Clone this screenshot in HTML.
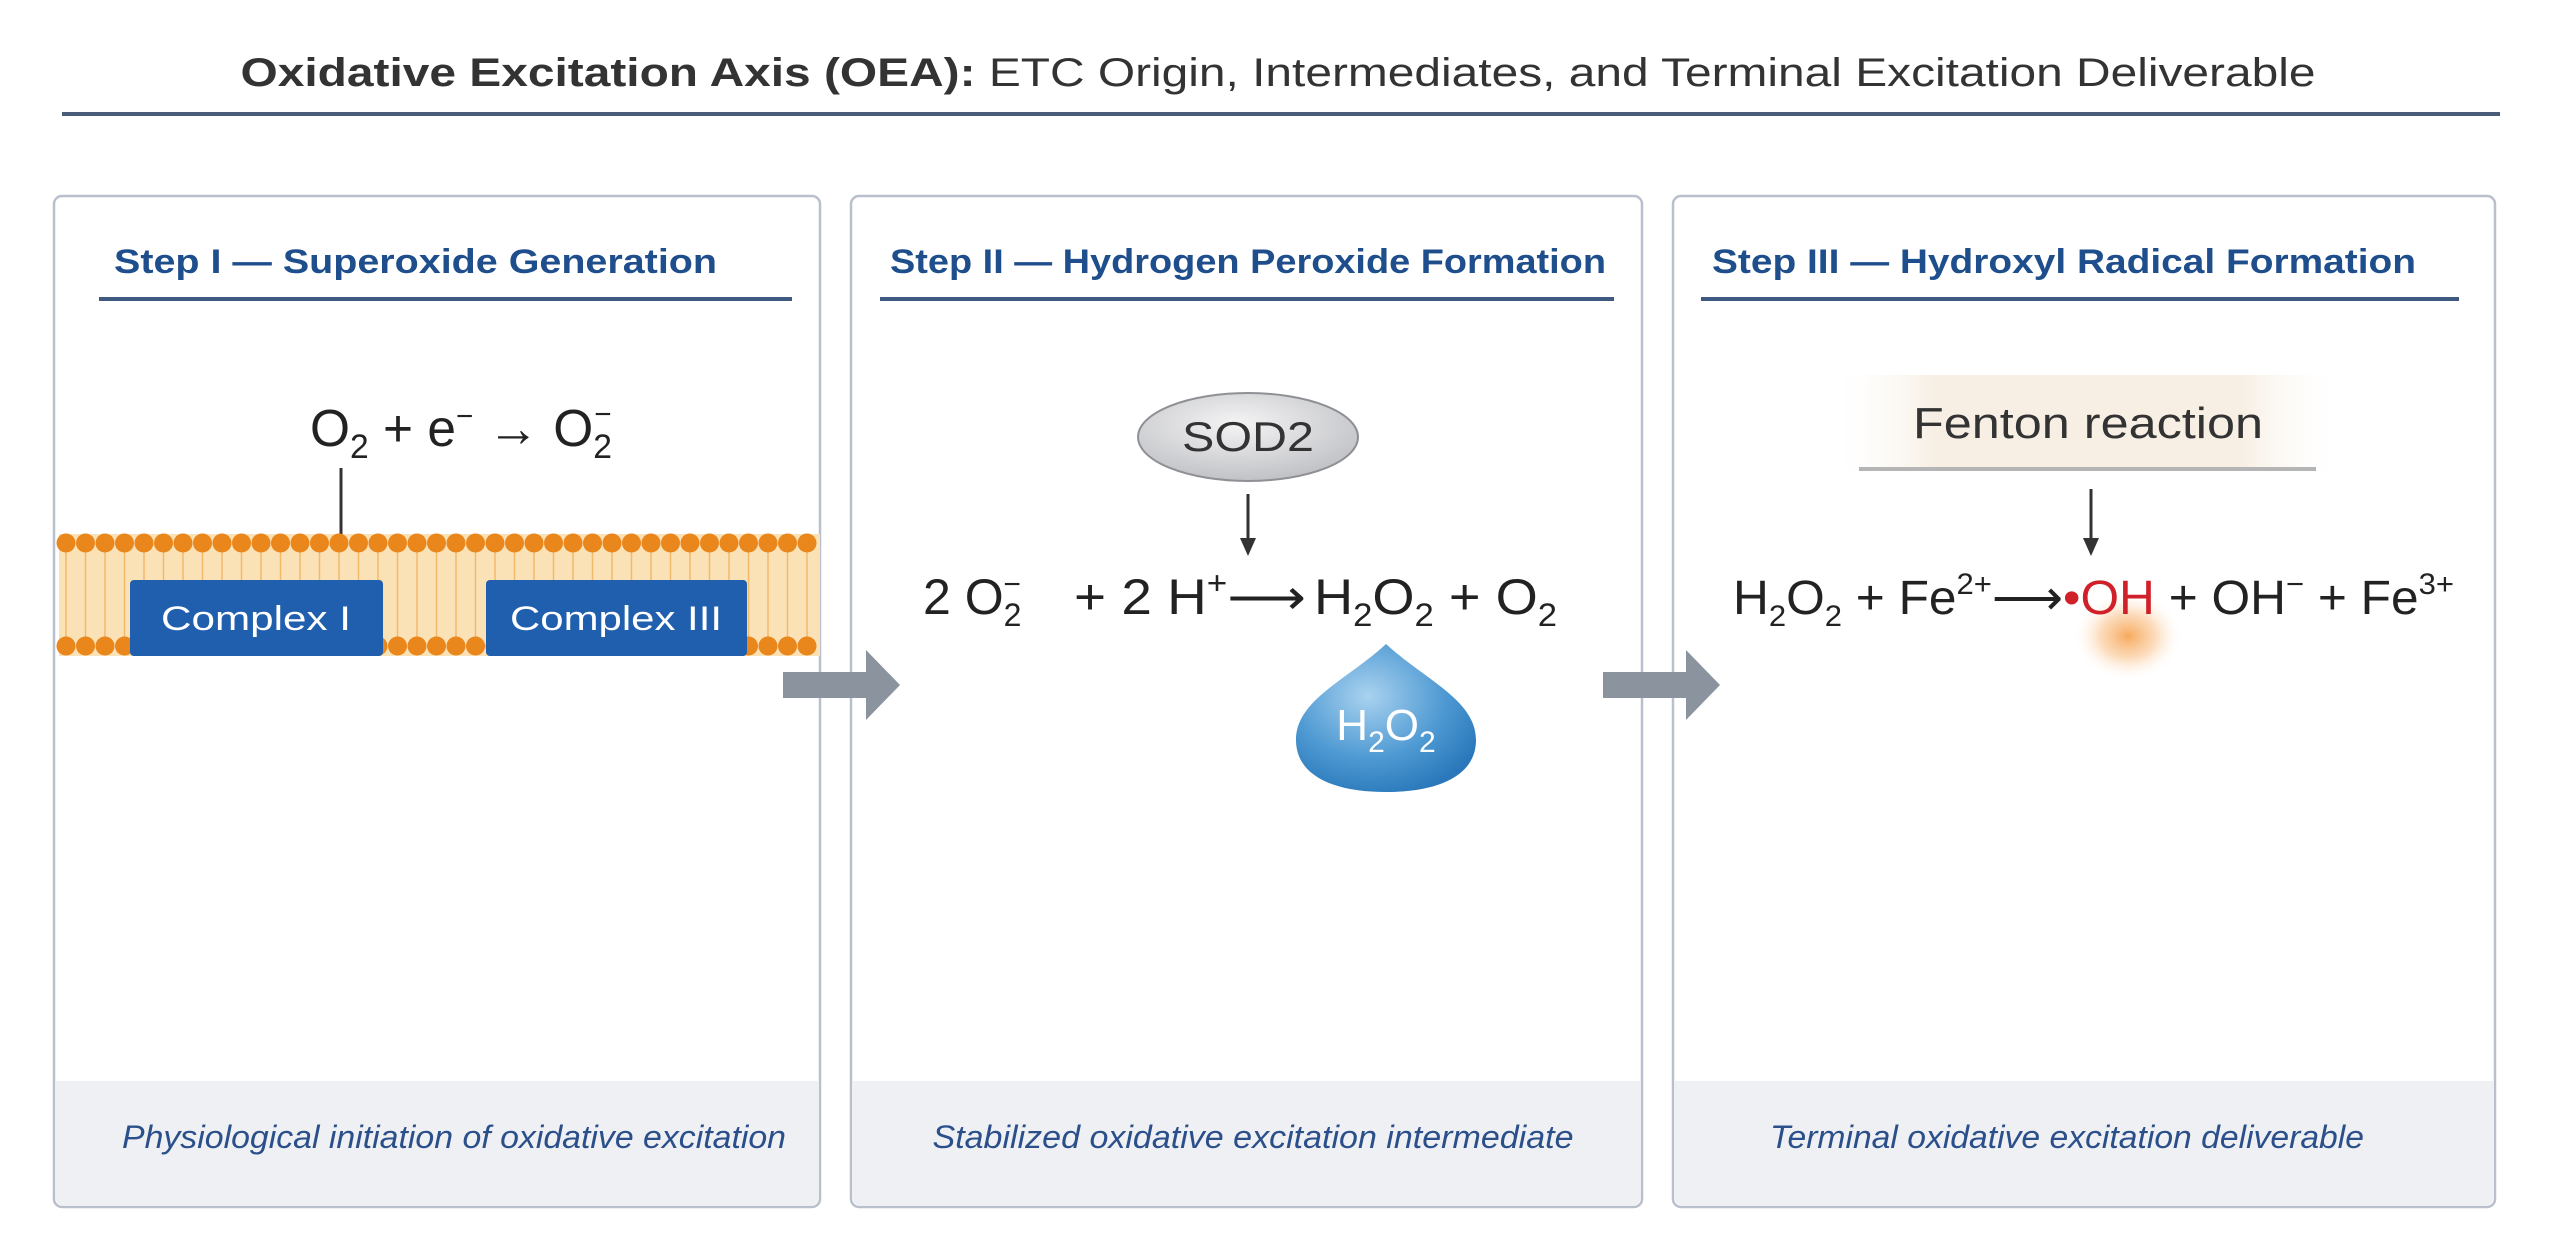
<!DOCTYPE html>
<html><head><meta charset="utf-8"><style>
html,body{margin:0;padding:0;background:#fff;}
svg{display:block;}
text{font-family:"Liberation Sans",sans-serif;}
</style></head><body>
<svg width="2557" height="1247" viewBox="0 0 2557 1247" xmlns="http://www.w3.org/2000/svg">
<defs>
<linearGradient id="fent" x1="0" x2="1" y1="0" y2="0">
<stop offset="0" stop-color="#fff" stop-opacity="0"/><stop offset="0.2" stop-color="#f7efe4"/><stop offset="0.8" stop-color="#f7efe4"/><stop offset="1" stop-color="#fff" stop-opacity="0"/></linearGradient>
<radialGradient id="glow"><stop offset="0" stop-color="#f6a04a" stop-opacity="0.9"/><stop offset="0.5" stop-color="#f8b878" stop-opacity="0.5"/><stop offset="1" stop-color="#fff" stop-opacity="0"/></radialGradient>
<radialGradient id="drop" cx="0.4" cy="0.35" r="0.7"><stop offset="0" stop-color="#a9d2ef"/><stop offset="0.6" stop-color="#4f9ad3"/><stop offset="1" stop-color="#2a78bb"/></radialGradient>
<radialGradient id="sod" cx="0.45" cy="0.35" r="0.7"><stop offset="0" stop-color="#f4f4f5"/><stop offset="1" stop-color="#bdbec2"/></radialGradient>
</defs>

<!-- Title -->
<text x="1278" y="86" text-anchor="middle" font-size="40" fill="#333" textLength="2075" lengthAdjust="spacingAndGlyphs"><tspan font-weight="bold">Oxidative Excitation Axis (OEA):</tspan> ETC Origin, Intermediates, and Terminal Excitation Deliverable</text>
<rect x="62" y="112" width="2438" height="4" fill="#4a5d78"/>

<!-- Panels -->
<g stroke="#b9c0cc" stroke-width="2.5" fill="#fff">
<rect x="54" y="196" width="766" height="1011" rx="8"/>
<rect x="851" y="196" width="791" height="1011" rx="8"/>
<rect x="1673" y="196" width="822" height="1011" rx="8"/>
</g>
<g fill="#eff0f3">
<path d="M56,1081 H818 V1199 a6,6 0 0 1 -6,6 H62 a6,6 0 0 1 -6,-6 Z"/>
<path d="M853,1081 H1640 V1199 a6,6 0 0 1 -6,6 H859 a6,6 0 0 1 -6,-6 Z"/>
<path d="M1675,1081 H2493 V1199 a6,6 0 0 1 -6,6 H1681 a6,6 0 0 1 -6,-6 Z"/>
</g>

<!-- Headings -->
<g font-weight="bold" font-size="34" fill="#1f4e8c">
<text x="114" y="273" textLength="603" lengthAdjust="spacingAndGlyphs">Step I — Superoxide Generation</text>
<text x="890" y="273" textLength="716" lengthAdjust="spacingAndGlyphs">Step II — Hydrogen Peroxide Formation</text>
<text x="1712" y="273" textLength="704" lengthAdjust="spacingAndGlyphs">Step III — Hydroxyl Radical Formation</text>
</g>
<g fill="#3f5a80">
<rect x="99" y="297" width="693" height="4"/>
<rect x="880" y="297" width="734" height="4"/>
<rect x="1701" y="297" width="758" height="4"/>
</g>

<!-- Footers -->
<g font-style="italic" font-size="32" fill="#2a4f8a" text-anchor="middle">
<text x="454" y="1148" textLength="664" lengthAdjust="spacingAndGlyphs">Physiological initiation of oxidative excitation</text>
<text x="1253" y="1148" textLength="641" lengthAdjust="spacingAndGlyphs">Stabilized oxidative excitation intermediate</text>
<text x="2067" y="1148" textLength="594" lengthAdjust="spacingAndGlyphs">Terminal oxidative excitation deliverable</text>
</g>

<!-- Panel 1 -->
<text x="310" y="446" font-size="52" fill="#222" textLength="302" lengthAdjust="spacingAndGlyphs">O<tspan font-size="34" dy="12">2</tspan><tspan dy="-12"> + e</tspan><tspan font-size="30" dy="-20">−</tspan><tspan dy="20"> → O</tspan><tspan font-size="34" dy="12">2</tspan><tspan font-size="30" dx="-18" dy="-34">−</tspan></text>
<line x1="341" y1="468" x2="341" y2="552" stroke="#333" stroke-width="3"/>
<rect x="59" y="534" width="761" height="122" fill="#fbe2b6"/>
<g stroke="#f3b96a" stroke-width="1.5" id="lines"></g>
<g id="memb"></g>
<script>
(function(){
 var ns="http://www.w3.org/2000/svg";
 var l=document.getElementById("lines"), m=document.getElementById("memb");
 for(var x=66;x<=815;x+=19.5){
  var ln=document.createElementNS(ns,"line");
  ln.setAttribute("x1",x);ln.setAttribute("x2",x);ln.setAttribute("y1",550);ln.setAttribute("y2",640);l.appendChild(ln);
  [543,646].forEach(function(y){var c=document.createElementNS(ns,"circle");c.setAttribute("cx",x);c.setAttribute("cy",y);c.setAttribute("r",9.5);c.setAttribute("fill","#e9861c");m.appendChild(c);});
 }
})();
</script>
<rect x="130" y="580" width="253" height="76" rx="4" fill="#1f5fae"/>
<rect x="486" y="580" width="261" height="76" rx="4" fill="#1f5fae"/>
<g font-size="34" fill="#fff" text-anchor="middle">
<text x="256" y="630" textLength="190" lengthAdjust="spacingAndGlyphs">Complex I</text>
<text x="616" y="630" textLength="212" lengthAdjust="spacingAndGlyphs">Complex III</text>
</g>

<!-- Block arrows -->
<g fill="#8a939e">
<path d="M783,672 H866 V650 L900,685 L866,720 V698 H783 Z"/>
<path d="M1603,672 H1686 V650 L1720,685 L1686,720 V698 H1603 Z"/>
</g>

<!-- Panel 2 -->
<ellipse cx="1248" cy="437" rx="110" ry="44" fill="url(#sod)" stroke="#8f9095" stroke-width="2"/>
<text x="1248" y="451" text-anchor="middle" font-size="42" fill="#333" textLength="132" lengthAdjust="spacingAndGlyphs">SOD2</text>
<line x1="1248" y1="494" x2="1248" y2="540" stroke="#333" stroke-width="3"/>
<path d="M1240,538 L1256,538 L1248,556 Z" fill="#333"/>
<text x="923" y="614" font-size="50" fill="#222">2 O<tspan font-size="32" dy="12">2</tspan><tspan font-size="30" dx="-18" dy="-32">−</tspan></text>
<text x="1074" y="614" font-size="50" fill="#222" textLength="232" lengthAdjust="spacingAndGlyphs">+ 2 H<tspan font-size="32" dy="-20">+</tspan><tspan dy="20">⟶</tspan></text>
<text x="1314" y="614" font-size="50" fill="#222" textLength="243" lengthAdjust="spacingAndGlyphs">H<tspan font-size="32" dy="12">2</tspan><tspan dy="-12">O</tspan><tspan font-size="32" dy="12">2</tspan><tspan dy="-12"> + O</tspan><tspan font-size="32" dy="12">2</tspan></text>
<path d="M1386,644 C1425,680 1476,700 1476,740 C1476,775 1440,792 1386,792 C1332,792 1296,775 1296,740 C1296,700 1347,680 1386,644 Z" fill="url(#drop)"/>
<text x="1386" y="740" text-anchor="middle" font-size="44" fill="#fff">H<tspan font-size="30" dy="12">2</tspan><tspan dy="-12">O</tspan><tspan font-size="30" dy="12">2</tspan></text>

<!-- Panel 3 -->
<rect x="1830" y="375" width="515" height="95" fill="url(#fent)"/>
<rect x="1859" y="467" width="457" height="4" fill="#b5b5b5"/>
<text x="2088" y="438" text-anchor="middle" font-size="44" fill="#333" textLength="350" lengthAdjust="spacingAndGlyphs">Fenton reaction</text>
<line x1="2091" y1="489" x2="2091" y2="540" stroke="#333" stroke-width="3"/>
<path d="M2083,538 L2099,538 L2091,556 Z" fill="#333"/>
<ellipse cx="2128" cy="636" rx="55" ry="45" fill="url(#glow)"/>
<text x="1733" y="614" font-size="48" fill="#222" textLength="721" lengthAdjust="spacingAndGlyphs">H<tspan font-size="30" dy="12">2</tspan><tspan dy="-12">O</tspan><tspan font-size="30" dy="12">2</tspan><tspan dy="-12"> + Fe</tspan><tspan font-size="30" dy="-20">2+</tspan><tspan dy="20">⟶</tspan><tspan fill="#d0202a">•OH</tspan> + OH<tspan font-size="30" dy="-20">−</tspan><tspan dy="20"> + Fe</tspan><tspan font-size="30" dy="-20">3+</tspan></text>
</svg>
</body></html>
